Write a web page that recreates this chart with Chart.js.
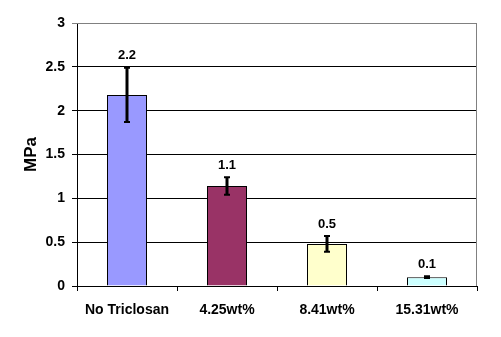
<!DOCTYPE html>
<html>
<head>
<meta charset="utf-8">
<script src="https://cdn.jsdelivr.net/npm/chart.js@4/dist/chart.umd.min.js"></script>
<style>
  html, body { margin: 0; padding: 0; background: #fff; }
  #wrap { width: 501px; height: 337px; }
</style>
</head>
<body>
<div id="wrap"><canvas id="myChart" width="501" height="337"></canvas></div>
<script>
const labels = ["No Triclosan", "4.25wt%", "8.41wt%", "15.31wt%"];
const values = [2.18, 1.14, 0.48, 0.1];
const errors = [0.31, 0.1, 0.09, 0.01];
const valueLabels = ["2.2", "1.1", "0.5", "0.1"];
const barColors = ["#9999FF", "#993366", "#FFFFCC", "#CCFFFF"];

const font = "Liberation Sans, Arial, sans-serif";

// error bars, value labels and the grey plot frame
const extras = {
  id: "extras",
  beforeDatasetsDraw(chart) {
    const { ctx, chartArea: a } = chart;
    ctx.save();
    ctx.strokeStyle = "#808080";
    ctx.lineWidth = 1;
    ctx.beginPath();
    ctx.moveTo(a.left, a.top + 0.5);
    ctx.lineTo(a.right - 0.5, a.top + 0.5);
    ctx.lineTo(a.right - 0.5, a.bottom);
    ctx.stroke();
    ctx.restore();
  },
  afterDatasetsDraw(chart) {
    const { ctx } = chart;
    const y = chart.scales.y;
    const meta = chart.getDatasetMeta(0);
    ctx.save();
    meta.data.forEach((bar, i) => {
      const hi = y.getPixelForValue(values[i] + errors[i]);
      const lo = y.getPixelForValue(values[i] - errors[i]);
      ctx.strokeStyle = "#000";
      ctx.lineWidth = 3;
      ctx.beginPath();
      ctx.moveTo(bar.x, hi);
      ctx.lineTo(bar.x, lo);
      ctx.stroke();
      ctx.lineWidth = 2;
      ctx.beginPath();
      ctx.moveTo(bar.x - 3, hi);
      ctx.lineTo(bar.x + 3, hi);
      ctx.moveTo(bar.x - 3, lo);
      ctx.lineTo(bar.x + 3, lo);
      ctx.stroke();
      ctx.fillStyle = "#000";
      ctx.font = "bold 13px " + font;
      ctx.textAlign = "center";
      ctx.textBaseline = "middle";
      ctx.fillText(valueLabels[i], bar.x, Math.min(hi, bar.y) - 12);
    });
    ctx.restore();
  }
};

new Chart(document.getElementById("myChart"), {
  type: "bar",
  data: {
    labels: labels,
    datasets: [{
      data: values,
      backgroundColor: barColors,
      borderColor: "#000",
      borderWidth: 1,
      barPercentage: 0.4,
      categoryPercentage: 1
    }]
  },
  options: {
    responsive: false,
    animation: false,
    layout: { padding: { top: 23, right: 24, left: 0, bottom: 0 } },
    plugins: { legend: { display: false }, tooltip: { enabled: false } },
    scales: {
      x: {
        grid: { drawOnChartArea: false, color: "#000", tickLength: 5, offset: true },
        border: { color: "#000", width: 1 },
        ticks: { color: "#000", font: { family: font, size: 14, weight: "bold" }, padding: 11, maxRotation: 0 },
        afterFit(scale) { scale.height = 51; }
      },
      y: {
        min: 0,
        max: 3,
        grid: {
          color: (c) => (c.tick && c.tick.value === 3 ? "#808080" : "#000"),
          tickLength: 5
        },
        border: { color: "#000", width: 1 },
        ticks: {
          stepSize: 0.5,
          color: "#000",
          font: { family: font, size: 14, weight: "bold" },
          padding: 7,
          callback: (v) => String(v)
        },
        title: {
          display: true,
          text: "MPa",
          color: "#000",
          font: { family: font, size: 17, weight: "bold" },
          padding: { top: 21, bottom: 0 }
        },
        afterFit(scale) { scale.width = 77; }
      }
    }
  },
  plugins: [extras]
});
</script>
</body>
</html>
